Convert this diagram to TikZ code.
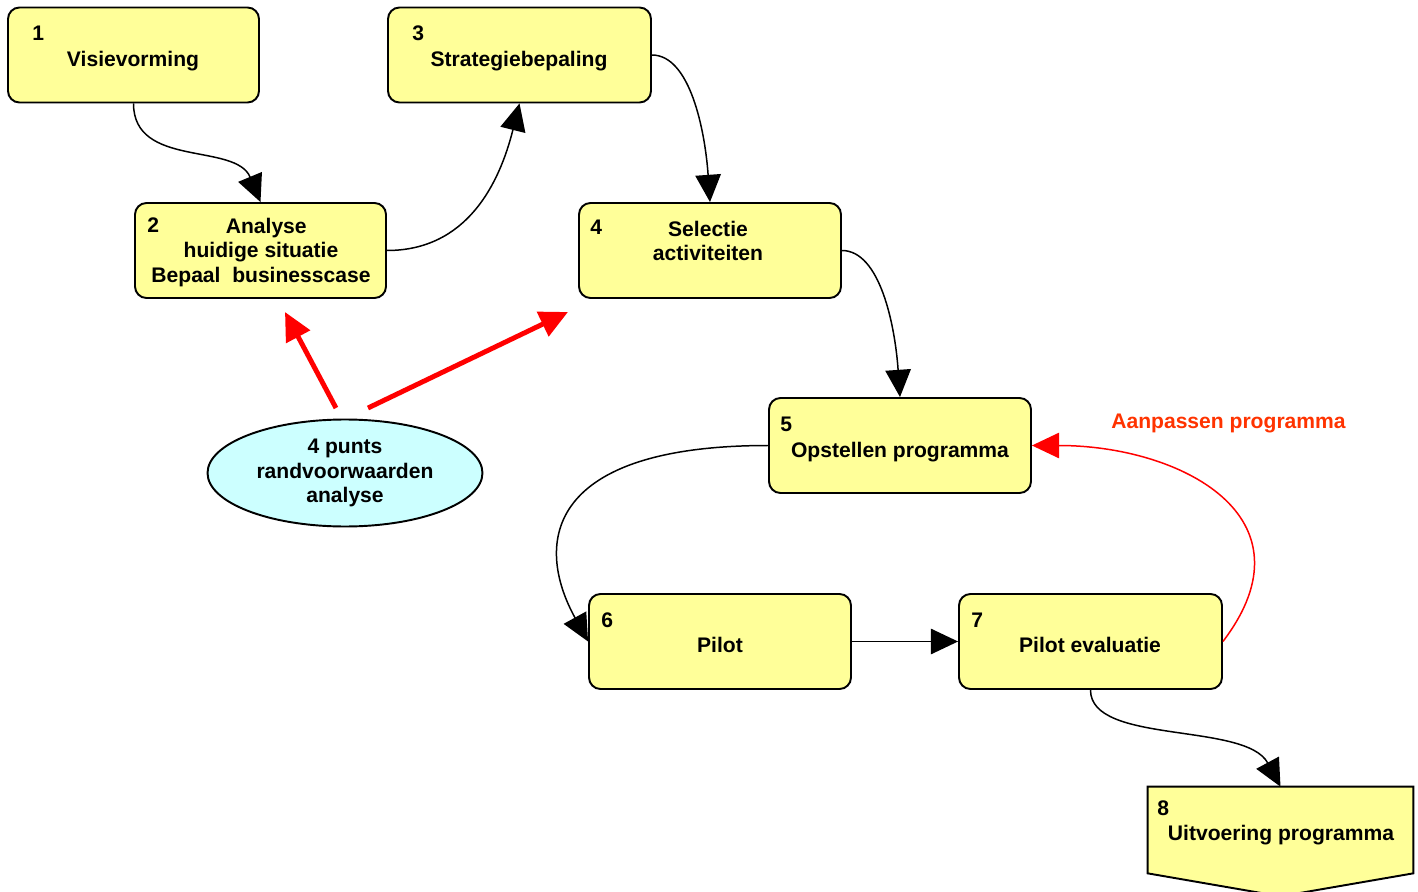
\documentclass[tikz,border=0pt]{standalone}
\usepackage{fontspec}
\setmainfont{Liberation Sans}
\usetikzlibrary{arrows.meta,calc,shapes.geometric}
\definecolor{stepyellow}{RGB}{255,255,153}
\definecolor{hintcyan}{RGB}{204,255,255}
\definecolor{adjustred}{RGB}{255,0,0}
\definecolor{adjusttext}{RGB}{255,51,0}
\tikzset{
  step-box/.style={draw=black, line width=1.1pt, fill=stepyellow, rounded corners=6.5pt,
    minimum width=5.24cm, minimum height=1.90cm, inner sep=0pt},
  step-num/.style={anchor=base west, inner sep=0pt},
  step-text/.style={anchor=base, inner sep=0pt},
  block-text/.style={align=center, inner sep=0pt},
  hint-ellipse/.style={ellipse, draw=black, line width=1.1pt, fill=hintcyan,
    minimum width=5.5cm, minimum height=2.14cm, align=center, inner sep=0pt},
  flow-arrow/.style={-{Triangle[length=15.5pt,width=14.5pt]}, line width=0.85pt, draw=black},
  adjust-arrow/.style={-{Triangle[length=15.5pt,width=14.5pt]}, line width=0.85pt, draw=adjustred},
  hint-arrow/.style={-{Triangle[length=16pt,width=15pt]}, line width=2.8pt, draw=adjustred},
  caption-text/.style={anchor=base, inner sep=0pt, text=adjusttext}
}

\begin{document}
\begin{tikzpicture}[x=0.02cm, y=-0.02cm, every node/.style={font=\fontsize{12}{14}\selectfont\bfseries}]
\useasboundingbox (0,0) rectangle (1418,892);

% Steps 1-7: rounded boxes
\node[step-box, minimum width=5.02cm] (b1) at (133.5,55) {};
\node[step-box, minimum width=5.02cm] (b2) at (260.5,250.5) {};
\node[step-box, minimum width=5.26cm] (b3) at (519.5,55) {};
\node[step-box] (b4) at (710,250.5) {};
\node[step-box] (b5) at (900,445.5) {};
\node[step-box] (b6) at (720,641.5) {};
\node[step-box, minimum width=5.26cm] (b7) at (1090.5,641.5) {};

% Step 8: box with a point at the bottom
\node[minimum width=5.3cm, minimum height=2.18cm, inner sep=0pt] (b8) at (1280.5,841.5) {};
\filldraw[line width=1.1pt, fill=stepyellow] (b8.north west) -- (b8.north east)
  -- ($(b8.south east)+(0,-23)$) -- (b8.south) -- ($(b8.south west)+(0,-23)$) -- cycle;

% Numbers and texts
\node[step-num] (n1) at (32,41) {1};
\node[step-text] (t1) at (133,67) {Visievorming};
\node[step-num] (n2) at (147,233) {2};
\node[block-text] (t2) at (261,252.5) {\hspace*{6pt}Analyse\\huidige situatie\\Bepaal\ \ businesscase};
\node[step-num] (n3) at (412,41) {3};
\node[step-text] (t3) at (519,67) {Strategiebepaling};
\node[step-num] (n4) at (590,235) {4};
\node[block-text] (t4) at (708,241) {Selectie\\activiteiten};
\node[step-num] (n5) at (780,431) {5};
\node[step-text] (t5) at (900,457) {Opstellen programma};
\node[step-num] (n6) at (601,627) {6};
\node[step-text] (t6) at (720,652) {Pilot};
\node[step-num] (n7) at (971,627) {7};
\node[step-text] (t7) at (1090,652) {Pilot evaluatie};
\node[step-num] (n8) at (1157,815) {8};
\node[step-text] (t8) at (1281,840) {Uitvoering programma};

% Boundary conditions
\node[hint-ellipse] (ell) at (345,473) {4 punts\\randvoorwaarden\\analyse};
\node[caption-text] (adjust) at (1228.5,428) {Aanpassen programma};

% Flow
\draw[flow-arrow] (b1.south) .. controls +(0,65) and +(-25,-60) .. (b2.north);
\draw[flow-arrow] (b2.east) .. controls +(80,0) and +(-20,80) .. (b3.south);
\draw[flow-arrow] (b3.east) .. controls +(38,0) and +(-5,-72) .. (b4.north);
\draw[flow-arrow] (b4.east) .. controls +(38,0) and +(-5,-72) .. (b5.north);
\draw[flow-arrow] (b5.west) .. controls +(-220,0) and +(-55,-100) .. (b6.west);
\draw[flow-arrow] (b6) -- (b7);
\draw[flow-arrow] (b7.south) .. controls +(0,55) and +(-35,-65) .. (b8.north);

% Feedback loop
\draw[adjust-arrow] (b7.east) .. controls +(95,-125) and +(148,0) .. (b5.east);

% Red hints from the ellipse
\coordinate (tail-a) at (336,408);
\coordinate (head-a) at (285,312);
\coordinate (tail-b) at (368,408);
\coordinate (head-b) at (568,312);
\draw[hint-arrow] (tail-a) -- (head-a);
\draw[hint-arrow] (tail-b) -- (head-b);
\end{tikzpicture}
\end{document}
